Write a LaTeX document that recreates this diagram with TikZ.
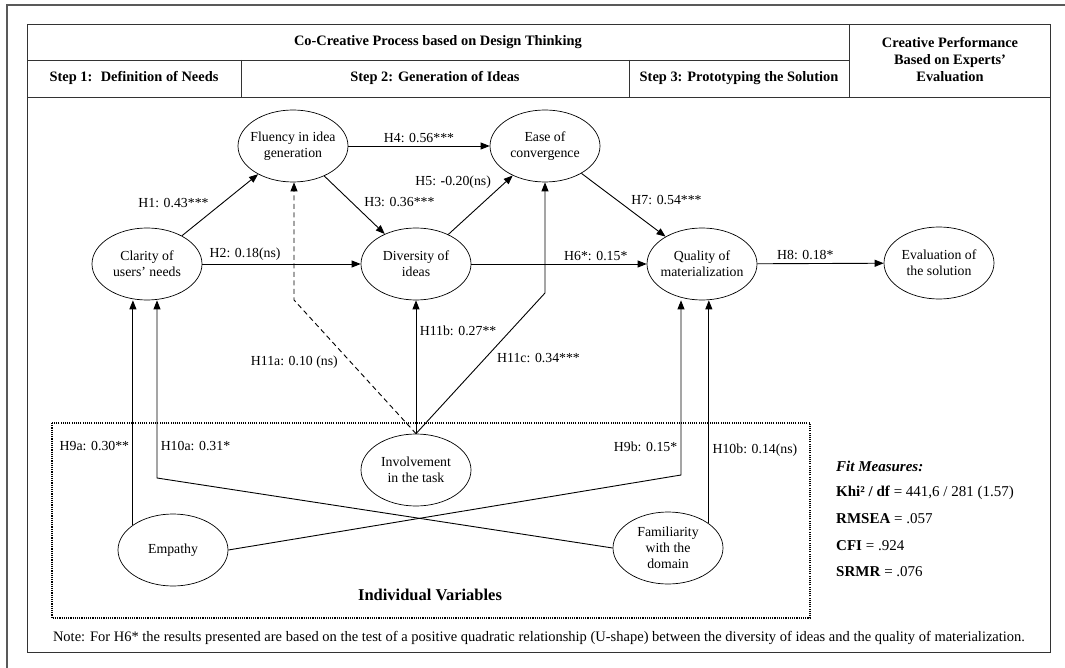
\documentclass[tikz,border=0pt]{standalone}
\usepackage{fontspec}
\setmainfont{Liberation Serif}
\usetikzlibrary{shapes.geometric,arrows.meta,positioning}

\begin{document}
\begin{tikzpicture}[x=1pt,y=-1pt,>={Triangle[length=9pt,width=7pt]},
  every node/.style={font=\fontsize{13.8}{16}\selectfont},
  var/.style={draw,ellipse,minimum width=110pt,minimum height=72pt,inner xsep=-8pt,inner ysep=0pt,align=center,line width=0.7pt},
  link/.style={->,line width=0.9pt},
  hdr/.style={font=\fontsize{14.4}{17}\selectfont\bfseries,align=center},
  fit/.style={anchor=west,inner xsep=0pt,font=\fontsize{15}{18}\selectfont}]
  \useasboundingbox (0,0) rectangle (1065,668);
  % frame and table head
  \draw[black!65,line width=1.6pt] (7,668) -- (7,5) -- (1065,5);
  \draw[black!80,line width=0.9pt] (27,24) rectangle (1050,652);
  \draw[black!80,line width=0.9pt] (27,60) -- (849,60) (27,97) -- (1050,97)
    (849,24) -- (849,97) (241,60) -- (241,97) (629,60) -- (629,97);
  \node[hdr] (process) at (438,42) {Co-Creative Process based on Design Thinking};
  \node[hdr] (step_1) at (134,78) {Step 1:~ Definition of Needs};
  \node[hdr] (step_2) at (435,78) {Step 2: Generation of Ideas};
  \node[hdr] (step_3) at (739,78) {Step 3: Prototyping the Solution};
  \node[hdr] (performance) at (950,60) {Creative Performance\\Based on Experts’\\Evaluation};

  % individual variables box
  \draw[line width=1.1pt,dash pattern=on 1.1pt off 1.1pt] (52,423) rectangle (810,618);
  \node[font=\fontsize{16.5}{19}\selectfont\bfseries] (indiv) at (430,595) {Individual Variables};

  % constructs
  \node[var] (fluency) at (293,146) {Fluency in idea\\generation};
  \node[var] (ease) at (545,146) {Ease of\\convergence};
  \node[var] (clarity) at (147,264) {Clarity of\\users’ needs};
  \node[var] (diversity) at (416,264) {Diversity of\\ideas};
  \node[var] (quality) at (702,264) {Quality of\\materialization};
  \node[var] (evaluation) at (939,263) {Evaluation of\\the solution};
  \node[var] (involvement) at (416,470) {Involvement\\in the task};
  \node[var] (empathy) at (173,550) {Empathy};
  \node[var] (familiarity) at (668,548) {Familiarity\\with the\\domain};

  \path[link,auto]
  (clarity) edge node[pos=0.4] {H1: 0.43***} (fluency)
  (clarity) edge node[pos=0.27] {H2: 0.18(ns)} (diversity)
  (fluency) edge node[pos=0.6] {H3: 0.36***} (diversity)
  (fluency) edge node {H4: 0.56***} (ease)
  (diversity) edge node[pos=0.72] {H5: {\bfseries -}0.20(ns)} (ease)
  (diversity) edge node[pos=0.71] {H6*: 0.15*} (quality)
  (ease) edge node[pos=0.55] {H7: 0.54***} (quality)
  (quality) edge node[pos=0.38] {H8: 0.18*} (evaluation);

  % paths from the individual variables
  \coordinate (h11a_bend) at (294,300);
  \coordinate (h11c_bend) at (545,293);
  \coordinate (h10a_bend) at (157,478);
  \coordinate (h9b_bend) at (681,475);
  \draw[link,dash pattern=on 5pt off 3.5pt] (involvement.north) -- node[below left,pos=0.61] {H11a: 0.10 (ns)} (h11a_bend) -- (h11a_bend |- fluency.south);
  \draw[link] (involvement.north) -- node[right,pos=0.77] {H11b: 0.27**} (diversity.south);
  \draw[link] (involvement.north) -- node[below right,pos=0.6] {H11c: 0.34***} (h11c_bend) -- (h11c_bend |- ease.south);
  \draw[link] (empathy.148) -- node[left,pos=0.35] {H9a: 0.30**} (empathy.148 |- clarity.south);
  \draw[link] (familiarity.west) -- (h10a_bend) -- node[right,pos=0.18] {H10a: 0.31*} (h10a_bend |- clarity.south);
  \draw[link] (empathy.east) -- (h9b_bend) -- node[left,pos=0.16] {H9b: 0.15*} (h9b_bend |- quality.south);
  \draw[link] (familiarity.31) -- node[right,pos=0.33] {H10b: 0.14(ns)} (familiarity.31 |- quality.south);

  % fit measures
  \node[fit,font=\fontsize{15}{18}\selectfont\bfseries\itshape] (fit_title) at (836,466) {Fit Measures:};
  \node[fit] (fit_khi) [below=26.5pt of fit_title.west,anchor=west] {\textbf{Khi² / df} = 441,6 / 281 (1.57)};
  \node[fit] (fit_rmsea) [below=26.5pt of fit_khi.west,anchor=west] {\textbf{RMSEA} = .057};
  \node[fit] (fit_cfi) [below=26.5pt of fit_rmsea.west,anchor=west] {\textbf{CFI} = .924};
  \node[fit] (fit_srmr) [below=26.5pt of fit_cfi.west,anchor=west] {\textbf{SRMR} = .076};

  \node[font=\fontsize{14.5}{17}\selectfont] (note) at (539,638) {Note: For H6* the results presented are based on the test of a positive quadratic relationship (U-shape) between the diversity of ideas and the quality of materialization.};
\end{tikzpicture}
\end{document}
